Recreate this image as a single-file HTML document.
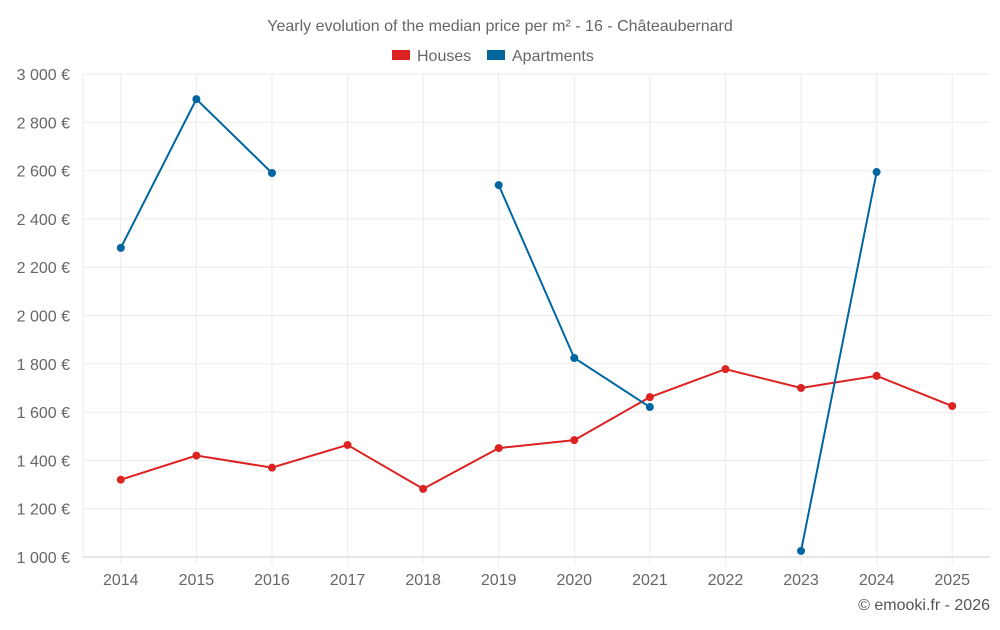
<!DOCTYPE html>
<html><head><meta charset="utf-8"><style>
body{margin:0;background:#fff;font-family:"Liberation Sans",sans-serif;}
</style></head><body>
<svg id="c" width="1000" height="625" xmlns="http://www.w3.org/2000/svg">
<text x="500" y="31" text-anchor="middle" font-size="16" fill="#666">Yearly evolution of the median price per m² - 16 - Châteaubernard</text>
<g>
<rect x="392" y="50" width="18" height="10" fill="#dd2222"/>
<text x="417" y="61" font-size="16" fill="#666">Houses</text>
<rect x="487" y="50" width="18" height="10" fill="#0066a0"/>
<text x="512" y="61" font-size="16" fill="#666">Apartments</text>
</g>
<g id="grid"></g><g id="axes"></g><g id="series"></g>
<text x="990" y="610" text-anchor="end" font-size="16" fill="#555">© emooki.fr - 2026</text>
</svg>
<script>
const years=[2014,2015,2016,2017,2018,2019,2020,2021,2022,2023,2024,2025];
const houses=[1320,1420,1370,1464,1282,1451,1484,1662,1778,1700,1750,1625];
const apartments=[2280,2896,2590,null,null,2540,1824,1621,null,1025,2594,null];
const yTicks=[1000,1200,1400,1600,1800,2000,2200,2400,2600,2800,3000];
const yTickLabels=["1 000 €","1 200 €","1 400 €","1 600 €","1 800 €","2 000 €","2 200 €","2 400 €","2 600 €","2 800 €","3 000 €"];
const L=83,R=990,T=74,B=557,NS="http://www.w3.org/2000/svg";
const step=(R-L)/years.length;
const x=i=>L+step*(i+0.5);
const y=v=>B-(v-1000)/2000*(B-T);
function mk(t,a,p){const e=document.createElementNS(NS,t);for(const k in a)e.setAttribute(k,a[k]);p.appendChild(e);return e;}
const g=document.getElementById('grid'),ax=document.getElementById('axes'),s=document.getElementById('series');
yTicks.forEach((v,i)=>{
 const l=mk('line',{x1:L,x2:R,y1:y(v),y2:y(v),stroke:i==0?'#ccc':'#ebebeb'},g);
 
 
 const t=mk('text',{x:70,y:y(v)+6,'text-anchor':'end','font-size':16,fill:'#666'},ax);
 t.textContent=yTickLabels[i];
 
 
});
const la=mk('line',{x1:L,x2:L,y1:T,y2:B,stroke:'#ebebeb'},g);


years.forEach((yr,i)=>{
 const l=mk('line',{x1:x(i),x2:x(i),y1:T,y2:B+8,stroke:'#ebebeb'},g);
 
 
 const t=mk('text',{x:x(i),y:585,'text-anchor':'middle','font-size':16,fill:'#666'},ax);
 t.textContent=yr;
 
 
});
function draw(data,color,name){
 let d='',pen=false;
 data.forEach((v,i)=>{if(v==null){pen=false;return;}d+=(pen?'L':'M')+x(i)+' '+y(v)+' ';pen=true;});
 const p=mk('path',{d:d,fill:'none',stroke:color,'stroke-width':2},s);
 
 
 data.forEach((v,i)=>{if(v==null)return;
  const c=mk('circle',{cx:x(i),cy:y(v),r:4,fill:color},s);
  
  
 });
}
draw(houses,'#dd2222','houses');
draw(apartments,'#0066a0','apartments');
</script>
</body></html>
